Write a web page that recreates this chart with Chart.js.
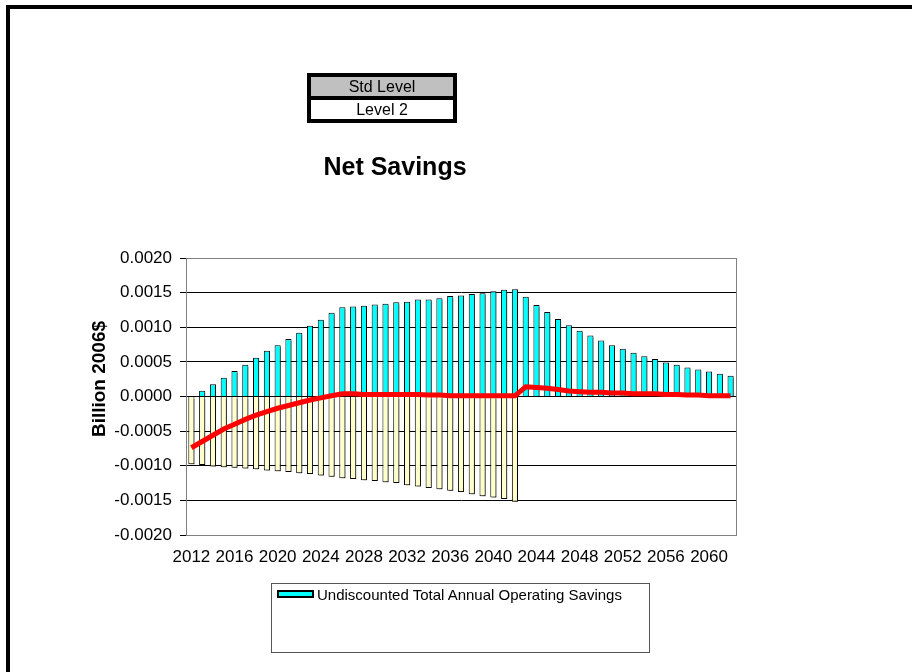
<!DOCTYPE html>
<html>
<head>
<meta charset="utf-8">
<script src="https://cdn.jsdelivr.net/npm/chart.js@4/dist/chart.umd.min.js"></script>
<style>
    body { margin: 0; background: #fff; font-family: "Liberation Sans", Arial, sans-serif; }
    #wrap { position: relative; width: 912px; height: 672px; overflow: hidden; }
    #chart { position: absolute; left: 0; top: 0; }
    #frame { position: absolute; left: 6px; top: 5px; width: 1000px; height: 1000px;
             border-left: 4px solid #000; border-top: 4px solid #000; }
    #level { position: absolute; left: 307px; top: 73px; width: 142px; border: 4px solid #000;
             font-size: 16px; text-align: center; }
    #level div { height: 19px; line-height: 19px; }
    #level .std { background: #c0c0c0; border-bottom: 4px solid #000; }
    #ytitle { position: absolute; left: 99px; top: 379px; transform: translate(-50%, -50%) rotate(-90deg);
              font-weight: bold; font-size: 19px; white-space: nowrap; }
    #legend { position: absolute; left: 271px; top: 583px; width: 377px; height: 68px;
              border: 1px solid #555; font-size: 15px; }
    #legend .sw { position: absolute; left: 5px; top: 6px; width: 33px; height: 4px;
                  background: #00ffff; border: 2px solid #000; }
    #legend .tx { position: absolute; left: 45px; top: 2px; }
</style>
</head>
<body>
<div id="wrap">
    <canvas id="chart" width="912" height="672"></canvas>
    <div id="frame"></div>
    <div id="level">
        <div class="std">Std Level</div>
        <div>Level 2</div>
    </div>
    <div id="ytitle">Billion 2006$</div>
    <div id="legend">
        <span class="sw"></span>
        <span class="tx">Undiscounted Total Annual Operating Savings</span>
    </div>
</div>

<script>
// ==========================================
// Data
// ==========================================
const years = [
    "2012", "2013", "2014", "2015", "2016", "2017", "2018", "2019", "2020", "2021",
    "2022", "2023", "2024", "2025", "2026", "2027", "2028", "2029", "2030", "2031",
    "2032", "2033", "2034", "2035", "2036", "2037", "2038", "2039", "2040", "2041",
    "2042", "2043", "2044", "2045", "2046", "2047", "2048", "2049", "2050", "2051",
    "2052", "2053", "2054", "2055", "2056", "2057", "2058", "2059", "2060", "2061",
    "2062"
];

// Undiscounted total annual operating savings
const operatingSavings = [
    0, 0.000082, 0.000178, 0.00027, 0.00037, 0.00046, 0.00056, 0.00066, 0.00074, 0.00083,
    0.00092, 0.00102, 0.00111, 0.00121, 0.00129, 0.00130, 0.00131, 0.00133, 0.00134, 0.00136,
    0.00137, 0.00140, 0.00140, 0.00142, 0.00145, 0.00146, 0.00148, 0.00149, 0.00152, 0.00154,
    0.00155, 0.00144, 0.00132, 0.00122, 0.00112, 0.00103, 0.00095, 0.00088, 0.00081, 0.00074,
    0.00069, 0.00063, 0.00058, 0.00054, 0.00049, 0.00046, 0.00042, 0.00039, 0.00036, 0.00033,
    0.00030
];

// Equipment cost increase (negative)
const equipmentCosts = [
    -0.00098, -0.00099, -0.00101, -0.00102, -0.00103, -0.00104, -0.00105, -0.00107, -0.00108, -0.00109,
    -0.00111, -0.00112, -0.00114, -0.00116, -0.00118, -0.00119, -0.00121, -0.00122, -0.00124, -0.00125,
    -0.00128, -0.00130, -0.00132, -0.00134, -0.00136, -0.00138, -0.00141, -0.00144, -0.00146, -0.00148,
    -0.00152, null, null, null, null, null, null, null, null, null,
    null, null, null, null, null, null, null, null, null, null,
    null
];

// Net savings line
const netSavings = [
    -0.00074, -0.00065, -0.00056, -0.00047, -0.00040, -0.00033, -0.00027, -0.00022, -0.00017, -0.00013,
    -0.00009, -0.00005, -0.00002, 0.00001, 0.00004, 0.00004, 0.00003, 0.00003, 0.00003, 0.00003,
    0.00003, 0.00003, 0.00002, 0.00002, 0.00001, 0.00001, 0.00001, 0.00001, 0.00001, 0.00001,
    0.00001, 0.00014, 0.00013, 0.00012, 0.00010, 0.00008, 0.00007, 0.00006, 0.00006, 0.00005,
    0.00005, 0.00004, 0.00004, 0.00004, 0.00003, 0.00003, 0.00002, 0.00002, 0.00001, 0.00001,
    0.00001
];

// ==========================================
// Plugins
// ==========================================
const plotFrame = {
    id: "plotFrame",
    beforeDatasetsDraw(chart) {
        const a = chart.chartArea;
        const ctx = chart.ctx;
        ctx.save();
        ctx.strokeStyle = "#808080";
        ctx.lineWidth = 1;
        ctx.strokeRect(a.left + 0.5, a.top + 0.5, a.right - a.left, a.bottom - a.top);
        ctx.restore();
    }
};

const barShadow = {
    id: "barShadow",
    beforeDatasetDraw(chart, args) {
        if (args.meta.type !== "bar") return;
        const ctx = chart.ctx;
        ctx.save();
        ctx.shadowColor = "rgba(0,0,0,0.4)";
        ctx.shadowOffsetX = 2;
        ctx.shadowOffsetY = 2;
        ctx.shadowBlur = 0;
    },
    afterDatasetDraw(chart, args) {
        if (args.meta.type !== "bar") return;
        chart.ctx.restore();
    }
};

// ==========================================
// Chart
// ==========================================
const font = "'Liberation Sans', Arial, sans-serif";
Chart.defaults.font.family = font;
Chart.defaults.color = "#000";

new Chart(document.getElementById("chart").getContext("2d"), {
    data: {
        labels: years,
        datasets: [
            {
                type: "line",
                label: "Net Savings",
                data: netSavings,
                borderColor: "#ff0000",
                borderWidth: 5,
                pointRadius: 0,
                tension: 0,
                order: 0
            },
            {
                type: "bar",
                label: "Undiscounted Total Annual Operating Savings",
                data: operatingSavings,
                backgroundColor: "#00ffff",
                borderColor: "#000",
                borderWidth: 1,
                barPercentage: 0.6,
                categoryPercentage: 0.95,
                order: 1
            },
            {
                type: "bar",
                label: "Equipment Costs",
                data: equipmentCosts,
                backgroundColor: "#ffffcc",
                borderColor: "#000",
                borderWidth: 1,
                barPercentage: 0.6,
                categoryPercentage: 0.95,
                order: 2
            }
        ]
    },
    options: {
        responsive: false,
        animation: false,
        layout: {
            padding: { left: 54, right: 176, top: 143, bottom: 107 }
        },
        plugins: {
            legend: { display: false },
            tooltip: { enabled: false },
            title: {
                display: true,
                text: "Net Savings",
                color: "#000",
                font: { size: 25, weight: "bold" },
                padding: { top: 10, bottom: 75 }
            }
        },
        scales: {
            x: {
                stacked: true,
                grid: { display: false },
                border: { color: "#808080" },
                ticks: {
                    autoSkip: false,
                    maxRotation: 0,
                    padding: 4,
                    font: { size: 17 },
                    callback: function (value, index) {
                        return index % 4 === 0 ? this.getLabelForValue(value) : "";
                    }
                },
                afterFit: function (scale) { scale.height = 30; }
            },
            y: {
                min: -0.002,
                max: 0.002,
                border: { color: "#000", width: 1 },
                grid: {
                    color: "#000",
                    tickColor: "#000",
                    tickLength: 6
                },
                ticks: {
                    stepSize: 0.0005,
                    padding: 8,
                    font: { size: 17 },
                    callback: value => value.toFixed(4)
                },
                afterFit: function (scale) { scale.width = 132; }
            }
        }
    },
    plugins: [plotFrame, barShadow]
});
</script>
</body>
</html>
